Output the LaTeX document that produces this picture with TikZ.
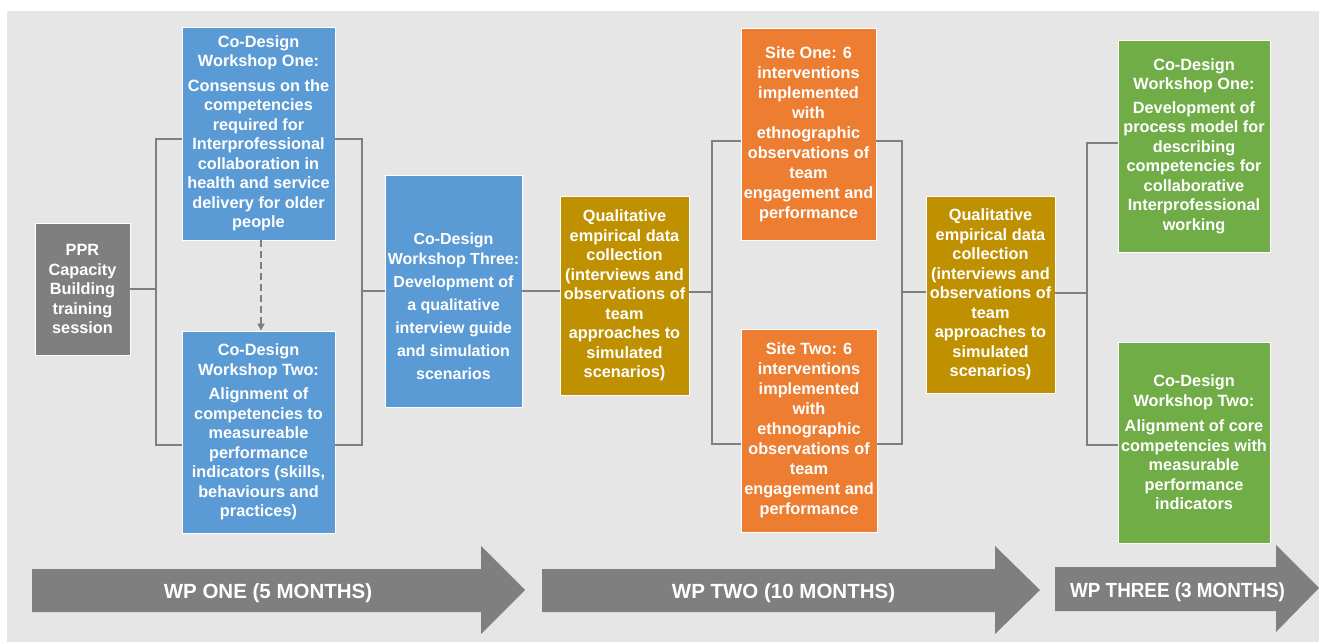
\documentclass[tikz,border=0pt]{standalone}
\usepackage{fontspec}
\setmainfont{Liberation Sans}
\newfontfamily\condsans[FakeStretch=0.92]{Liberation Sans}
\usetikzlibrary{arrows.meta}
\definecolor{bgc}{HTML}{E6E6E6}
\definecolor{greyc}{HTML}{7F7F7F}
\definecolor{cblue}{HTML}{5B9BD5}
\definecolor{corange}{HTML}{ED7D31}
\definecolor{cgold}{HTML}{BF9000}
\definecolor{cgreen}{HTML}{70AD47}
\begin{document}
\begin{tikzpicture}[x=1pt,y=-1pt,
  box/.style={draw=white, line width=0.8pt, inner sep=0pt, align=center, text=white,
    font=\fontsize{16.3}{19.5}\selectfont\bfseries},
  sitebox/.style={box, font=\fontsize{16.3}{20}\selectfont\bfseries},
  boxtext/.style={inner sep=0pt, align=center, text=white,
    font=\fontsize{16}{23}\selectfont\bfseries},
  conn/.style={draw=greyc, line width=2.8pt},
  dashconn/.style={draw=greyc, line width=1.6pt, dash pattern=on 7pt off 4pt,
    -{Triangle[width=7pt,length=7pt]}},
  wparrow/.style={fill=greyc},
  wptext/.style={inner sep=0pt, text=white, font=\fontsize{20.5}{24}\selectfont\bfseries}
]
\useasboundingbox (0,0) rectangle (1319,642);
\fill[white] (0,0) rectangle (1319,642);
\fill[bgc] (7,11) rectangle (1319,642);

% nodes
\node[box, fill=greyc, minimum width=95pt, minimum height=132pt] (ppr) at (82.5,289)
  {PPR\\Capacity\\Building\\training\\session};
\node[box, fill=cblue, minimum width=153pt, minimum height=213pt] (ws1) at (258.5,133.5)
  {Co-Design\\Workshop One:\\[5pt]Consensus on the\\competencies\\required for\\Interprofessional\\collaboration in\\health and service\\delivery for older\\people};
\node[box, fill=cblue, minimum width=153pt, minimum height=202pt] (ws2) at (258.5,432)
  {Co-Design\\Workshop Two:\\[5pt]Alignment of\\competencies to\\measureable\\performance\\indicators (skills,\\behaviours and\\practices)};
\node[box, fill=cblue, minimum width=137pt, minimum height=232pt] (ws3) at (453.5,291) {};
\node[boxtext] (ws3t) at (453.5,306)
  {Co-Design\\[-3pt]Workshop Three:\\Development of\\a qualitative\\interview guide\\and simulation\\scenarios};
\node[box, fill=cgold, minimum width=129pt, minimum height=199pt] (q1) at (624.5,295.5)
  {Qualitative\\empirical data\\collection\\(interviews and\\observations of\\team\\approaches to\\simulated\\scenarios)};
\node[sitebox, fill=corange, minimum width=135pt, minimum height=212pt] (s1) at (808.5,134)
  {Site One: 6\\interventions\\implemented\\with\\ethnographic\\observations of\\team\\engagement and\\performance};
\node[sitebox, fill=corange, minimum width=136pt, minimum height=203pt] (s2) at (809,430.5)
  {Site Two: 6\\interventions\\implemented\\with\\ethnographic\\observations of\\team\\engagement and\\performance};
\node[box, fill=cgold, minimum width=129pt, minimum height=197pt] (q2) at (990.5,294.5)
  {Qualitative\\empirical data\\collection\\(interviews and\\observations of\\team\\approaches to\\simulated\\scenarios)};
\node[box, fill=cgreen, minimum width=152pt, minimum height=212pt] (g1) at (1194,146)
  {Co-Design\\Workshop One:\\[4pt]Development of\\process model for\\describing\\competencies for\\collaborative\\Interprofessional\\working};
\node[box, fill=cgreen, minimum width=152pt, minimum height=201pt] (g2) at (1194,442.5)
  {Co-Design\\Workshop Two:\\[6pt]Alignment of core\\competencies with\\measurable\\performance\\indicators};

% bracket coordinates
\coordinate (a1) at (156,139);
\coordinate (a2) at (156,445);
\coordinate (b1) at (362,139);
\coordinate (b2) at (362,445);
\coordinate (c0) at (712,292);
\coordinate (c1) at (712,141);
\coordinate (c2) at (712,444);
\coordinate (d0) at (902,292);
\coordinate (d1) at (902,141);
\coordinate (d2) at (902,444);
\coordinate (e0) at (1087,293);
\coordinate (e1) at (1087,143);
\coordinate (e2) at (1087,445);
\coordinate (dx) at (261,0);

% connectors
\draw[conn] (ppr.east) -- (ppr.east -| a1);
\draw[conn] (ws1.west |- a1) -- (a1) -- (a2) -- (ws2.west |- a2);
\draw[conn] (ws1.east |- b1) -- (b1) -- (b2) -- (ws2.east |- b2);
\draw[conn] (ws3.west) -- (ws3.west -| b1);
\draw[conn] (ws3.east) -- (ws3.east -| q1.west);
\draw[conn] (q1.east |- c0) -- (c0);
\draw[conn] (s1.west |- c1) -- (c1) -- (c2) -- (s2.west |- c2);
\draw[conn] (s1.east |- d1) -- (d1) -- (d2) -- (s2.east |- d2);
\draw[conn] (d0) -- (d0 -| q2.west);
\draw[conn] (q2.east |- e0) -- (e0);
\draw[conn] (g1.west |- e1) -- (e1) -- (e2) -- (g2.west |- e2);
\draw[dashconn] (ws1.south -| dx) -- (ws2.north -| dx);

% work-package arrows
\fill[wparrow] (32,569) -- (481,569) -- (481,546) -- (525,590) -- (481,634) -- (481,612) -- (32,612) -- cycle;
\node[wptext] (wp1) at (268,593) {WP ONE (5 MONTHS)};
\fill[wparrow] (542,569) -- (995,569) -- (995,546) -- (1040,590) -- (995,634) -- (995,612) -- (542,612) -- cycle;
\node[wptext] (wp2) at (783.5,593) {WP TWO (10 MONTHS)};
\fill[wparrow] (1055,567) -- (1276,567) -- (1276,545) -- (1319,588) -- (1276,632) -- (1276,611) -- (1055,611) -- cycle;
\node[wptext, font=\fontsize{20.5}{24}\condsans\bfseries] (wp3) at (1177.5,592.5) {WP THREE (3 MONTHS)};
\end{tikzpicture}
\end{document}
